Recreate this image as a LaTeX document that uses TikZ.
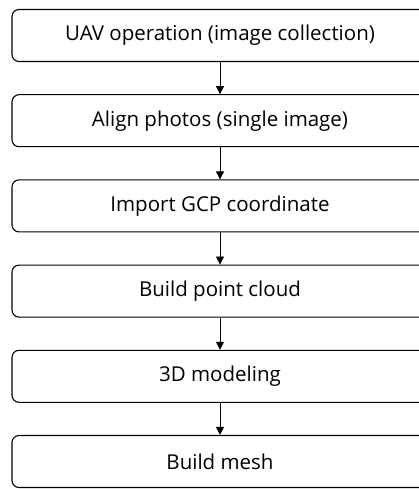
\documentclass[tikz,border=0pt]{standalone}
\usepackage{fontspec}
\setmainfont{Open Sans}
\usetikzlibrary{arrows.meta}
\tikzset{
  stepbox/.style={draw, line width=1.1pt, rounded corners=7pt, minimum width=416pt,
    minimum height=52pt, inner sep=0pt, font=\fontsize{20.5}{24}\selectfont},
  flow/.style={draw, line width=0.8pt, -{Triangle[length=8pt,width=8pt]}}
}
\begin{document}
\begin{tikzpicture}[x=1pt, y=-1pt]

\useasboundingbox (0, 0) rectangle (419, 489);
\clip (0, 0) rectangle (419, 489);

\node[stepbox] (uav) at (220, 35.5) {UAV operation (image collection)};
\node[stepbox] (align) at (220, 120.7) {Align photos (single image)};
\node[stepbox] (gcp) at (220, 205.9) {Import GCP coordinate};
\node[stepbox] (cloud) at (220, 291.1) {Build point cloud};
\node[stepbox] (model) at (220, 376.3) {3D modeling};
\node[stepbox] (mesh) at (220, 461.5) {Build mesh};

\draw[flow] (uav) -- (align);
\draw[flow] (align) -- (gcp);
\draw[flow] (gcp) -- (cloud);
\draw[flow] (cloud) -- (model);
\draw[flow] (model) -- (mesh);

\end{tikzpicture}
\end{document}
